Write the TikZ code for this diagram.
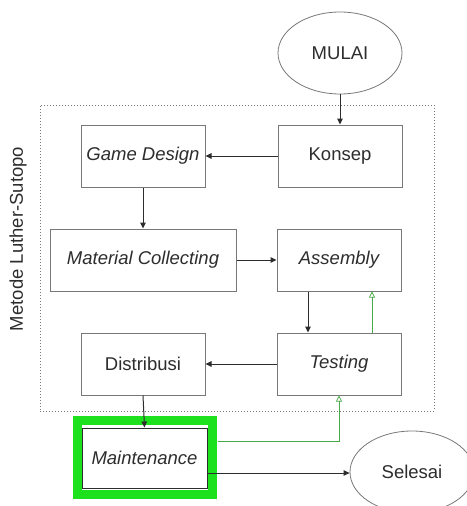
\documentclass[tikz,border=0pt]{standalone}
\usepackage{fontspec}
\setmainfont{Liberation Sans}
\usetikzlibrary{shapes.geometric,arrows.meta}
\definecolor{txt}{RGB}{45,45,45}
\definecolor{bord}{RGB}{120,120,120}
\definecolor{brightgreen}{RGB}{30,225,30}
\definecolor{lgreen}{RGB}{70,170,70}
\tikzset{
  box/.style={draw=bord, line width=1pt, fill=white, minimum width=124pt, minimum height=62pt, inner sep=0pt, text=txt, font=\fontsize{18.5}{22}\selectfont},
  oval/.style={ellipse, draw=bord, line width=0.8pt, fill=white, minimum width=124pt, minimum height=82pt, inner sep=0pt, text=txt, font=\fontsize{18.5}{22}\selectfont},
  blk/.style={draw=txt, line width=1pt, -{Triangle[length=6pt,width=5.5pt]}},
  grn/.style={draw=lgreen, line width=0.7pt, -{Triangle[open,length=6pt,width=6pt]}}
}
\begin{document}
\begin{tikzpicture}[x=1pt,y=-1pt]
\useasboundingbox (0,0) rectangle (466,506);
\node[draw=bord, dotted, line width=1pt, minimum width=394pt, minimum height=306pt, inner sep=0pt] (frame) at (237,258) {};
\node[rotate=90, text=txt, font=\fontsize{18.5}{22}\selectfont] (lbl) at (18,239) {Metode Luther-Sutopo};
\node[oval] (mulai) at (340,53) {MULAI};
\node[box] (konsep) at (340,156) {Konsep};
\node[box] (gd) at (143,156) {\itshape Game Design};
\node[box, minimum width=186pt] (mc) at (143,260) {\itshape Material Collecting};
\node[box] (asm) at (339,260) {\itshape Assembly};
\node[box] (dist) at (143,364) {Distribusi};
\node[box] (tst) at (339,364) {\itshape Testing};
\draw[brightgreen, line width=9pt] (77.5,420.5) rectangle (212,494);
\node[box, minimum width=125pt, minimum height=60pt, draw=txt] (mt) at (144.5,458) {\itshape Maintenance};
\node[oval] (sel) at (412,472) {Selesai};
\coordinate (ms) at ([yshift=-15pt]mt.east);
\draw[blk] (mulai) -- (konsep);
\draw[blk] (konsep) -- (gd);
\draw[blk] (gd) -- (mc);
\draw[blk] (mc.east |- asm.west) -- (asm.west);
\draw[blk] ([xshift=-31pt]asm.south) -- ([xshift=-31pt]tst.north);
\draw[grn] ([xshift=33pt]tst.north) -- ([xshift=33pt]asm.south);
\draw[blk] (tst) -- (dist);
\draw[blk] (dist.south) -- (mt.north);
\draw[grn] ([xshift=10pt,yshift=17pt]mt.east) -| (tst.south);
\draw[blk] (ms) -- (ms -| sel.west);
\end{tikzpicture}
\end{document}
